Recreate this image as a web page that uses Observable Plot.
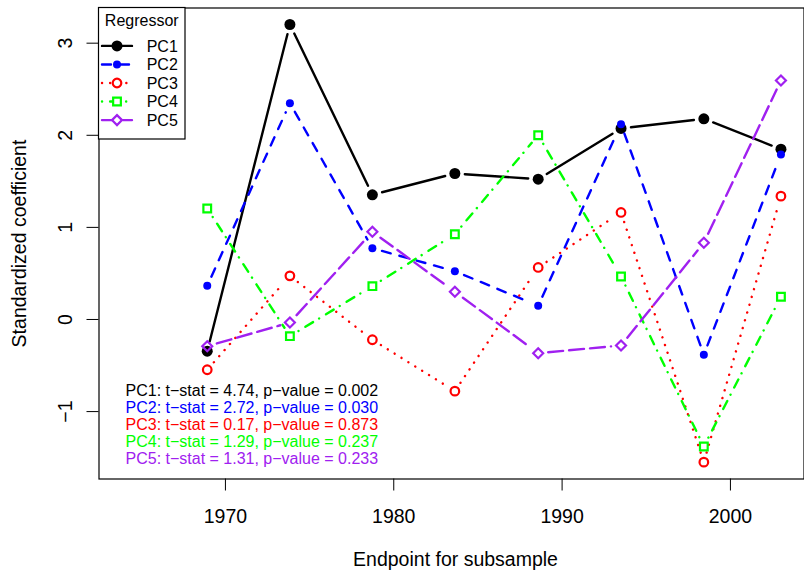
<!DOCTYPE html>
<html><head><meta charset="utf-8">
<script src="https://cdn.jsdelivr.net/npm/d3@7"></script>
<script src="https://cdn.jsdelivr.net/npm/@observablehq/plot@0.6"></script>
<style>body{margin:0;background:#fff} svg{display:block}</style>
</head><body><div id="chart"></div>
<script>
// ---- data ----
const endpoints = [1968.92, 1973.83, 1978.73, 1983.63, 1988.58, 1993.50, 1998.42, 2003.00];
const seriesNames = ["PC1", "PC2", "PC3", "PC4", "PC5"];
const pc1 = [-0.344, 3.203, 1.354, 1.585, 1.523, 2.074, 2.179, 1.849];
const pc2 = [0.366, 2.349, 0.774, 0.524, 0.149, 2.121, -0.383, 1.792];
const pc3 = [-0.546, 0.474, -0.220, -0.778, 0.565, 1.162, -1.549, 1.339];
const pc4 = [1.205, -0.181, 0.362, 0.926, 2.001, 0.467, -1.379, 0.246];
const pc5 = [-0.290, -0.033, 0.952, 0.301, -0.366, -0.282, 0.833, 2.595];
const tStats = [4.74, 2.72, 0.17, 1.29, 1.31];
const pValues = ["0.002", "0.030", "0.873", "0.237", "0.233"];
const xTicks = [1970, 1980, 1990, 2000];
const yTicks = [-1, 0, 1, 2, 3];
const legendTitle = "Regressor";
const xTitle = "Endpoint for subsample";
const yTitle = "Standardized coefficient";

// ---- styles ----
const values = [pc1, pc2, pc3, pc4, pc5];
const colors = ["#000000", "#0000FF", "#FF0000", "#00FF00", "#A020F0"];
const dashes = [null, "9,9", "0.1,8", "0.1,8,9,7", "15,6"];
const symbols = ["circle", "circle", "circle", "square", "diamond2"];
const radii = [5.5, 4, 4.3, 4.35, 4.5];
const filled = [true, true, false, false, false];
const FONT = "'Liberation Sans', Arial, Helvetica, sans-serif";
const fmtNum = d => (d < 0 ? "\u2212" : "") + String(Math.abs(d));

const W = 804, H = 572;
const ml = 98.5, mr = 0.5, mt = 7.5, mb = 93.5;
const xDomain = [1962.49, 2004.37];
const yDomain = [-1.732, 3.382];
const sx = (W - ml - mr) / (xDomain[1] - xDomain[0]);
const sy = (H - mt - mb) / (yDomain[1] - yDomain[0]);
const gap = 10;

const marks = [Plot.frame({stroke: "black", strokeWidth: 1.2})];

values.forEach((vals, s) => {
  const pts = vals.map((v, i) => ({x: endpoints[i], y: v}));
  const segs = [];
  for (let i = 0; i < pts.length - 1; i++) {
    const p = pts[i], q = pts[i + 1];
    const L = Math.hypot((q.x - p.x) * sx, (q.y - p.y) * sy);
    if (L <= 2 * gap) continue;
    const f = gap / L;
    segs.push({
      x1: p.x + (q.x - p.x) * f, y1: p.y + (q.y - p.y) * f,
      x2: q.x - (q.x - p.x) * f, y2: q.y - (q.y - p.y) * f
    });
  }
  marks.push(Plot.link(segs, {
    x1: "x1", y1: "y1", x2: "x2", y2: "y2",
    stroke: colors[s], strokeWidth: 2.4,
    strokeDasharray: dashes[s] || undefined, strokeLinecap: "round"
  }));
  marks.push(Plot.dot(pts, {
    x: "x", y: "y", r: radii[s], symbol: symbols[s],
    fill: filled[s] ? colors[s] : "none",
    stroke: filled[s] ? "none" : colors[s],
    strokeWidth: 2.2
  }));
});

// annotation lines
seriesNames.forEach((name, i) => {
  const line = `${name}: t\u2212stat = ${tStats[i].toFixed(2)}, p\u2212value = ${pValues[i]}`;
  marks.push(Plot.text([line], {
    frameAnchor: "top-left", textAnchor: "start", lineAnchor: "middle",
    dx: 26.5, dy: 383.2 + i * 16.9, fill: colors[i], fontSize: 16
  }));
});

// axes
marks.push(Plot.axisX({ticks: xTicks, tickFormat: fmtNum, tickSize: 12, tickPadding: 18, fontSize: 19.5, label: null, stroke: "black", fill: "black"}));
marks.push(Plot.axisY({ticks: yTicks, tickFormat: fmtNum, tickSize: 12, tickPadding: 15, tickRotate: -90, fontSize: 19.5, label: null, stroke: "black", fill: "black"}));

// axis titles
marks.push(Plot.text([xTitle], {frameAnchor: "bottom", textAnchor: "middle", lineAnchor: "bottom", dx: 4, dy: 86.5, fontSize: 19.5, fill: "black"}));
marks.push(Plot.text([yTitle], {frameAnchor: "left", textAnchor: "middle", lineAnchor: "bottom", rotate: -90, dx: -73.5, fontSize: 19.5, fill: "black"}));

const chart = Plot.plot({
  width: W, height: H,
  marginLeft: ml, marginRight: mr, marginTop: mt, marginBottom: mb,
  x: {domain: xDomain},
  y: {domain: yDomain},
  style: {fontFamily: FONT, fontSize: "16px", background: "white", color: "black"},
  marks
});
document.getElementById("chart").appendChild(chart);

// legend (inside top-left corner of the plot frame)
const svg = d3.select(chart);
const lg = svg.append("g").attr("font-family", FONT).attr("font-size", 16).attr("text-anchor", "start");
lg.append("rect").attr("x", 98.5).attr("y", 7.5).attr("width", 86.5).attr("height", 131.5)
  .attr("fill", "white").attr("stroke", "black").attr("stroke-width", 1.2);
lg.append("text").attr("x", 141.75).attr("y", 25.7).attr("text-anchor", "middle").attr("fill", "black").text(legendTitle);
seriesNames.forEach((name, i) => {
  const cy = 45.9 + i * 18.55;
  lg.append("line").attr("x1", 102).attr("x2", 132).attr("y1", cy).attr("y2", cy)
    .attr("stroke", colors[i]).attr("stroke-width", 2.4).attr("stroke-linecap", "round")
    .attr("stroke-dasharray", dashes[i]);
  const sym = {circle: d3.symbolCircle, square: d3.symbolSquare, diamond2: d3.symbolDiamond2}[symbols[i]];
  lg.append("path").attr("transform", `translate(117,${cy})`)
    .attr("d", d3.symbol(sym, Math.PI * radii[i] * radii[i])())
    .attr("fill", filled[i] ? colors[i] : "white")
    .attr("stroke", filled[i] ? "none" : colors[i]).attr("stroke-width", 2.2);
  lg.append("text").attr("x", 146.7).attr("y", cy + 5.7).attr("text-anchor", "start").attr("fill", "black").text(name);
});
</script>
</body></html>
